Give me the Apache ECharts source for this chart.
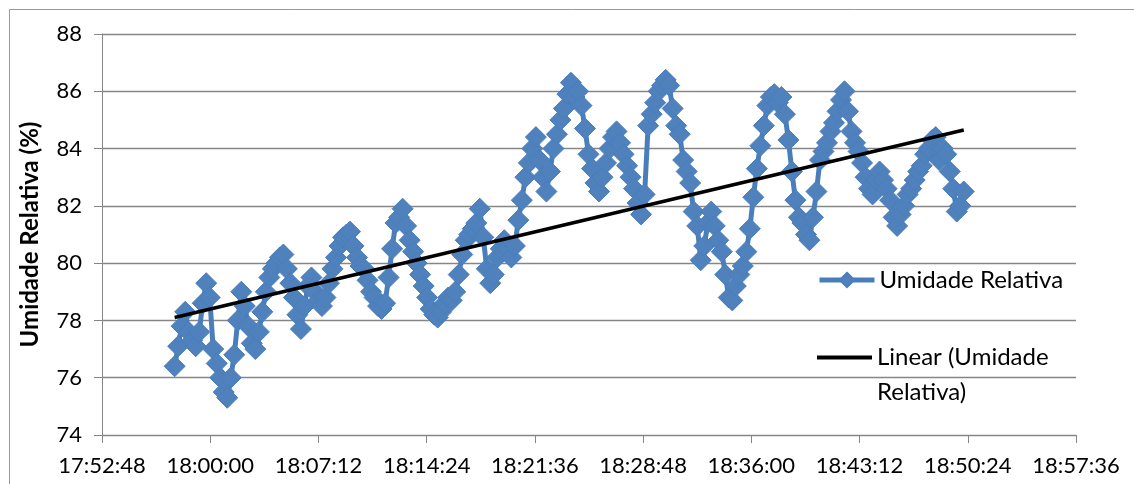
<!DOCTYPE html>
<html>
<head>
<meta charset="utf-8">
<script src="https://cdn.jsdelivr.net/npm/echarts@6/dist/echarts.min.js"></script>
<style>
  html, body { margin: 0; padding: 0; background: #fff; }
  #chart { width: 1134px; height: 484px; }
</style>
</head>
<body>
<div id="chart"></div>
<script>
// Umidade relativa – leituras do sensor + tendência linear (estilo Excel)

const FONT = "Lato, 'Noto Sans', sans-serif";
const BLUE = "#4A7EBB";

// eixo x: segundos desde 00:00 (17:52:48 → 18:57:36, passo 0:07:12)
const X_MIN = "17:52:48";
const X_MAX = "18:57:36";
const X_STEP = 432;

// leituras: primeiro horário e intervalo do registrador
const firstReading = "17:57:38";
const readingEverySec = 14;

// umidade relativa (%)
const umidade = [
  76.4, 77.1, 77.8, 78.3, 77.6, 77.3, 77.1, 77.6, 78.6, 79.3,
  78.8, 77.0, 76.5, 76.0, 75.5, 75.3, 76.0, 76.8, 78.0, 79.0,
  78.5, 77.8, 77.2, 77.0, 77.6, 78.3, 79.0, 79.5, 79.8, 80.0,
  80.2, 80.3, 79.8, 79.3, 78.8, 78.2, 77.7, 78.5, 79.2, 79.5,
  79.0, 78.7, 78.5, 78.8, 79.3, 79.8, 80.2, 80.6, 80.9, 81.0,
  81.1, 80.6, 80.2, 79.9, 79.8, 79.4, 79.0, 78.8, 78.5, 78.4,
  78.6, 79.5, 80.5, 81.4, 81.6, 81.9, 81.3, 80.8, 80.4, 80.0,
  79.6, 79.2, 78.8, 78.4, 78.2, 78.1, 78.3, 78.6, 78.8, 78.7,
  79.0, 79.6, 80.3, 80.8, 81.0, 81.2, 81.4, 81.9, 80.9, 79.8,
  79.3, 79.6, 80.2, 80.5, 80.8, 80.5, 80.2, 80.6, 81.5, 82.2,
  83.0, 83.5, 84.0, 84.4, 83.6, 83.0, 82.5, 83.2, 84.0, 84.5,
  85.0, 85.4, 85.9, 86.3, 85.8, 86.0, 85.5, 84.7, 83.8, 83.3,
  82.8, 82.5, 83.0, 83.5, 84.0, 84.4, 84.6, 84.2, 83.8, 83.4,
  83.0, 82.6, 82.1, 81.7, 82.4, 84.8, 85.2, 85.6, 86.0, 86.2,
  86.4, 86.2, 85.4, 84.8, 84.5, 83.6, 83.2, 82.8, 81.8, 81.3,
  80.1, 80.6, 81.4, 81.8, 81.3, 80.8, 80.4, 79.6, 78.8, 78.7,
  79.2, 79.6, 79.9, 80.4, 81.2, 82.3, 83.3, 84.1, 84.8, 85.5,
  85.8, 85.9, 85.6, 85.8, 85.2, 84.3, 83.2, 82.2, 81.6, 81.4,
  81.0, 80.8, 81.6, 82.5, 83.6, 83.9, 84.2, 84.6, 84.9, 85.3,
  85.7, 86.0, 85.3, 84.6, 84.2, 83.9, 83.5, 83.0, 82.6, 82.4,
  82.9, 83.2, 82.9, 82.6, 82.2, 81.6, 81.3, 81.7, 82.0, 82.4,
  82.6, 82.9, 83.2, 83.4, 83.8, 84.0, 84.3, 84.4, 83.6, 84.0,
  83.8, 83.2, 82.6, 81.8, 82.0, 82.5,
];

// tendência linear: valores no início e no fim das leituras
const trendEnds = [78.1, 84.65];

// ── helpers ───────────────────────────────────────────────────────────
function toSec(hms) {
  const [h, m, s] = hms.split(":").map(Number);
  return h * 3600 + m * 60 + s;
}
function fmtSec(v) {
  const pad = n => String(n).padStart(2, "0");
  return `${pad(Math.floor(v / 3600))}:${pad(Math.floor(v / 60) % 60)}:${pad(v % 60)}`;
}

const t0 = toSec(firstReading);
const points = umidade.map((v, i) => [t0 + i * readingEverySec, v]);
const tEnd = points[points.length - 1][0];
const trend = [[t0, trendEnds[0]], [tEnd, trendEnds[1]]];

// ── chart ─────────────────────────────────────────────────────────────
const chart = echarts.init(document.getElementById("chart"), null, { renderer: "canvas" });

chart.setOption({
  backgroundColor: "#fff",
  animation: false,
  textStyle: { fontFamily: FONT },
  graphic: [{
    type: "rect", left: 7, top: 7, z: -10, silent: true,
    shape: { width: 1200, height: 600 },
    style: { fill: "none", stroke: "#9a9a9a", lineWidth: 1 },
  }],
  grid: { left: 102, right: 58, top: 34, bottom: 49 },
  legend: [
    {
      data: ["Umidade Relativa"], left: 812, top: 263, selectedMode: false,
      itemWidth: 55, itemHeight: 18,
      lineStyle: { width: 5 },
      textStyle: { color: "#000", fontSize: 24, fontFamily: FONT },
    },
    {
      data: [{ name: "Linear (Umidade Relativa)", icon: "rect" }],
      left: 812, top: 300, selectedMode: false,
      itemWidth: 55, itemHeight: 4,
      formatter: () => "\u00a0\nLinear (Umidade\nRelativa)",
      textStyle: { color: "#000", fontSize: 24, lineHeight: 35, fontFamily: FONT },
    },
  ],
  xAxis: {
    type: "value", min: toSec(X_MIN), max: toSec(X_MAX), interval: X_STEP,
    axisLine: { lineStyle: { color: "#868686", width: 1 } },
    axisTick: { show: true, inside: false, length: 8, lineStyle: { color: "#868686" } },
    splitLine: { show: false },
    axisLabel: { color: "#000", fontSize: 22, margin: 20, formatter: v => fmtSec(v), hideOverlap: false },
  },
  yAxis: {
    type: "value", min: 74, max: 88, interval: 2,
    name: "Umidade Relativa (%)", nameLocation: "middle", nameGap: 60,
    nameTextStyle: { color: "#000", fontSize: 24, fontWeight: "bold", fontFamily: FONT },
    axisLine: { show: true, lineStyle: { color: "#868686", width: 1 } },
    axisTick: { show: true, length: 8, lineStyle: { color: "#868686" } },
    splitLine: { lineStyle: { color: "#868686", width: 1.3 } },
    axisLabel: { color: "#000", fontSize: 22, margin: 20 },
  },
  series: [
    {
      name: "Umidade Relativa", type: "line", data: points,
      symbol: "diamond", symbolSize: 21, showAllSymbol: true,
      itemStyle: { color: "#4F81BD", borderColor: BLUE, borderWidth: 1 },
      lineStyle: { color: BLUE, width: 5 },
      z: 2,
    },
    {
      name: "Linear (Umidade Relativa)", type: "line", data: trend,
      symbol: "none", lineStyle: { color: "#000", width: 3.5 },
      itemStyle: { color: "#000" },
      z: 3,
    },
  ],
});
</script>
</body>
</html>
